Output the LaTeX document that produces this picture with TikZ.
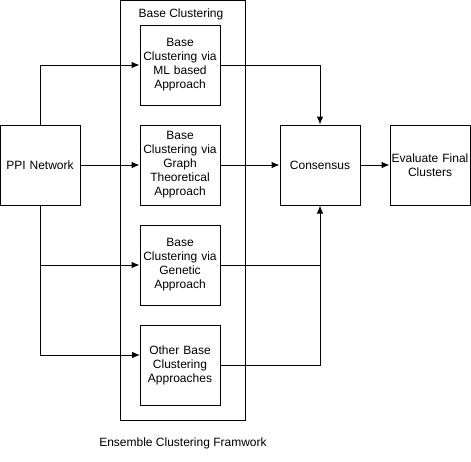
\documentclass[tikz,border=0pt]{standalone}
\usepackage{fontspec}
\setmainfont{Liberation Sans}
\usetikzlibrary{arrows.meta}
\begin{document}
\begin{tikzpicture}[x=0.75pt,y=-0.75pt,
  box/.style={draw,line width=0.75pt,minimum width=60pt,minimum height=60pt,align=center,text width=58pt,inner sep=0pt,font=\fontsize{9}{10.5}\selectfont},
  conn/.style={draw,line width=0.75pt,-{Latex[length=6pt,width=5pt]}},
  lbl/.style={font=\fontsize{9}{10.5}\selectfont}]
\useasboundingbox (0,0) rectangle (471,461);
\draw[line width=0.75pt] (120,0.5) rectangle (245,420);
\node[lbl] (bcl) at (181,14) {Base Clustering};
\node[box] (ppi) at (40,165) {PPI Network};
\node[box] (b1) at (180,65) {Base\\Clustering via\\ML based\\Approach};
\node[box] (b2) at (180,165) {Base\\Clustering via\\Graph\\Theoretical\\Approach};
\node[box] (b3) at (180,265) {Base\\Clustering via\\Genetic\\Approach};
\node[box] (b4) at (180,365) {Other Base\\Clustering\\Approaches};
\node[box] (cons) at (320,165) {Consensus};
\node[box] (eval) at (430,165) {Evaluate Final\\Clusters};
\node[lbl] (ecf) at (183,443) {Ensemble Clustering Framwork};
\coordinate (p1) at (40,65);
\coordinate (p3) at (40,265);
\coordinate (p4) at (40,355);
\coordinate (b4in) at (140,355);
\coordinate (q1) at (320,65);
\coordinate (q3) at (320,265);
\coordinate (q4) at (320,365);
\draw[conn] (ppi.north) -- (p1) -- (b1.west);
\draw[conn] (ppi.east) -- (b2.west);
\draw[conn] (ppi.south) -- (p3) -- (b3.west);
\draw[conn] (p3) -- (p4) -- (b4in);
\draw[conn] (b1.east) -- (q1) -- (cons.north);
\draw[conn] (b2.east) -- (cons.west);
\draw[conn] (b3.east) -- (q3) -- (cons.south);
\draw[line width=0.75pt] (b4.east) -- (q4) -- (q3);
\draw[conn] (cons.east) -- (eval.west);
\end{tikzpicture}
\end{document}
